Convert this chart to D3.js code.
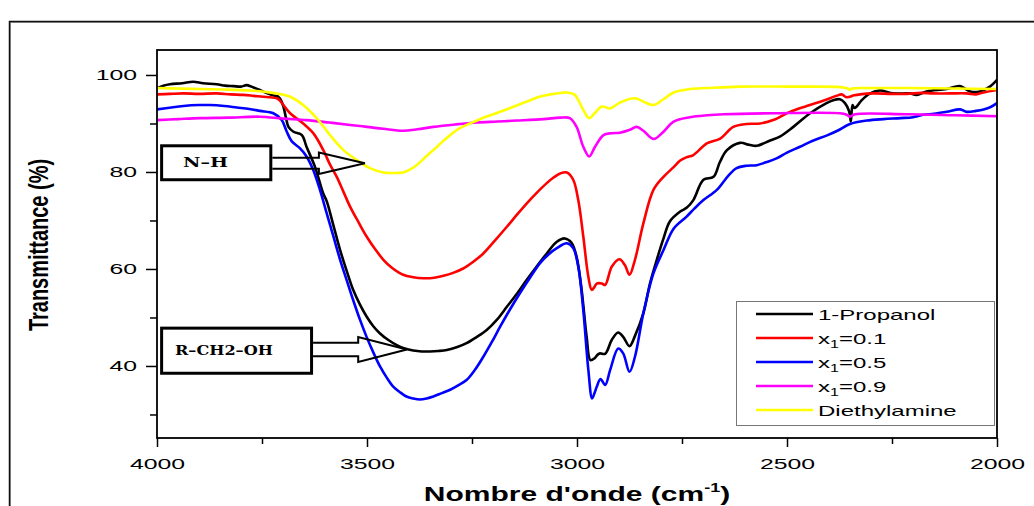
<!DOCTYPE html>
<html>
<head>
<meta charset="utf-8">
<script src="https://cdn.jsdelivr.net/npm/d3@7"></script>
<style>
  html, body { margin: 0; padding: 0; background: #fff; }
  svg { display: block; }
</style>
</head>
<body>
<svg id="chart" width="1034" height="506"></svg>
<script>
// FTIR spectra: [wavenumber (cm-1), transmittance (%)]
const propanol = [
  [4000,97.3],[3985,97.8],[3969,98.1],[3940,98.3],[3914,98.6],[3890,98.3],[3858,98.1],[3838,97.8],
  [3818,97.7],[3800,97.6],[3786,97.9],[3770,97.4],[3755,96.9],[3740,96.3],[3731,96.0],[3720,95.7],
  [3711,95.5],[3705,94.8],[3699,93.5],[3693,91.2],[3687,89.3],[3675,88.3],[3655,87.6],[3644,85.2],
  [3624,81.1],[3604,75.5],[3596,74.0],[3580,69.0],[3564,63.9],[3548,59.5],[3533,55.7],[3517,52.7],
  [3501,50.2],[3485,48.2],[3469,46.7],[3450,45.4],[3429,44.3],[3410,43.6],[3390,43.2],[3370,43.0],
  [3350,43.0],[3330,43.1],[3310,43.3],[3285,43.9],[3263,44.7],[3240,45.9],[3215,47.4],[3190,49.6],
  [3167,52.2],[3143,54.9],[3120,57.7],[3096,60.5],[3072,63.2],[3048,65.6],[3029,66.3],[3013,65.4],
  [3001,62.5],[2989,55.7],[2977,46.0],[2968,41.2],[2958,41.6],[2950,42.4],[2945,42.6],[2933,42.5],
  [2917,45.4],[2902,46.9],[2890,46.0],[2875,44.1],[2862,46.2],[2842,50.9],[2826,57.1],[2810,61.9],
  [2794,66.3],[2779,69.8],[2755,71.8],[2739,72.6],[2723,74.2],[2699,78.4],[2675,79.0],[2660,82.0],
  [2643,84.5],[2612,86.0],[2590,85.6],[2572,85.4],[2540,86.5],[2517,87.3],[2485,89.3],[2445,92.1],
  [2406,94.2],[2390,94.8],[2374,95.0],[2362,94.2],[2352,92.5],[2348,90.4],[2344,93.8],[2340,93.2],
  [2334,93.5],[2322,94.8],[2302,96.2],[2279,96.8],[2247,96.2],[2207,96.2],[2191,95.9],[2168,96.6],
  [2120,97.1],[2088,97.7],[2064,96.6],[2041,96.6],[2017,97.6],[2000,99.0]
];
const x01 = [
  [4000,96.0],[3970,96.1],[3937,96.2],[3900,96.1],[3858,96.2],[3825,96.0],[3795,95.9],[3770,95.7],
  [3747,95.5],[3730,95.4],[3715,95.2],[3708,94.8],[3699,93.8],[3683,92.1],[3652,90.0],[3628,88.0],
  [3604,84.5],[3588,81.5],[3572,79.0],[3556,75.9],[3540,72.8],[3520,69.6],[3501,66.7],[3480,64.0],
  [3461,61.9],[3440,60.2],[3414,58.8],[3390,58.3],[3366,58.1],[3340,58.2],[3318,58.6],[3295,59.2],
  [3271,60.1],[3247,61.5],[3223,63.2],[3195,65.9],[3167,68.7],[3143,71.2],[3120,73.5],[3096,75.7],
  [3072,77.7],[3055,78.9],[3040,79.7],[3024,79.9],[3009,78.4],[2997,74.2],[2985,66.7],[2973,58.4],
  [2965,55.7],[2959,56.2],[2953,57.0],[2941,57.0],[2933,56.7],[2917,60.5],[2899,62.0],[2886,60.8],
  [2875,58.8],[2862,61.9],[2842,69.4],[2818,76.3],[2794,79.0],[2770,81.0],[2755,82.3],[2740,83.0],
  [2723,83.5],[2691,85.9],[2659,86.9],[2628,89.3],[2596,89.9],[2564,90.0],[2533,90.7],[2493,92.4],
  [2453,93.6],[2414,94.7],[2382,95.7],[2370,96.0],[2358,95.4],[2340,95.8],[2326,96.0],[2295,96.2],
  [2250,96.1],[2215,96.1],[2180,96.3],[2152,96.2],[2112,96.2],[2072,96.2],[2050,96.0],[2032,96.4],
  [2000,96.9]
];
const x05 = [
  [4000,92.9],[3937,93.6],[3900,93.8],[3874,93.8],[3840,93.6],[3810,93.3],[3780,93.0],[3755,92.6],
  [3723,92.1],[3703,90.7],[3691,88.3],[3679,86.3],[3660,84.9],[3644,83.2],[3628,80.4],[3612,76.3],
  [3596,71.5],[3580,66.7],[3564,61.9],[3548,57.6],[3533,53.6],[3517,49.6],[3501,46.0],[3485,42.8],
  [3469,39.9],[3453,37.6],[3437,35.7],[3420,34.5],[3406,33.7],[3390,33.3],[3374,33.1],[3358,33.3],
  [3342,33.7],[3322,34.4],[3302,35.1],[3283,36.0],[3263,37.1],[3243,39.2],[3223,41.9],[3203,44.9],
  [3183,48.1],[3160,51.6],[3136,55.0],[3112,58.2],[3088,61.2],[3068,63.0],[3048,64.3],[3024,65.3],
  [3009,64.3],[2997,60.5],[2985,51.5],[2973,39.2],[2964,33.3],[2958,34.5],[2953,35.7],[2944,37.3],
  [2933,36.1],[2921,39.2],[2902,43.6],[2890,42.6],[2875,38.8],[2862,41.9],[2842,50.9],[2818,59.1],
  [2794,63.9],[2770,68.3],[2739,70.8],[2720,72.5],[2699,74.2],[2667,76.3],[2640,79.2],[2620,80.8],
  [2596,81.3],[2572,81.4],[2550,82.0],[2525,82.8],[2500,84.0],[2469,85.2],[2440,86.4],[2406,87.5],
  [2380,88.5],[2350,89.9],[2310,90.6],[2270,90.9],[2230,91.1],[2200,91.3],[2176,91.8],[2150,92.0],
  [2120,92.4],[2088,92.9],[2072,92.4],[2050,92.6],[2032,92.9],[2015,93.4],[2000,94.2]
];
const x09 = [
  [4000,90.7],[3950,90.9],[3898,91.1],[3830,91.2],[3755,91.4],[3700,91.0],[3644,90.7],[3590,90.2],
  [3540,89.7],[3500,89.3],[3461,88.9],[3414,88.5],[3380,88.8],[3342,89.3],[3290,89.8],[3239,90.2],
  [3190,90.4],[3144,90.6],[3080,90.9],[3040,91.2],[3017,91.1],[3001,89.3],[2985,85.2],[2971,83.2],
  [2957,85.2],[2937,87.6],[2918,88.0],[2898,88.1],[2874,88.7],[2858,89.3],[2842,88.5],[2818,86.8],
  [2794,88.3],[2770,90.4],[2731,91.3],[2690,91.7],[2651,91.9],[2533,92.1],[2374,92.1],[2358,91.8],
  [2350,91.4],[2338,91.9],[2215,91.9],[2100,91.7],[2000,91.5]
];
const diethylamine = [
  [4000,97.3],[3950,97.2],[3898,97.1],[3840,97.0],[3779,96.8],[3740,96.5],[3715,96.2],[3683,95.5],
  [3652,93.8],[3620,91.1],[3588,87.6],[3556,84.5],[3525,82.5],[3493,80.8],[3461,79.9],[3440,79.8],
  [3414,79.9],[3398,80.5],[3382,81.4],[3362,83.0],[3342,84.5],[3322,86.1],[3302,87.6],[3280,89.0],
  [3255,90.0],[3220,91.3],[3183,92.4],[3150,93.5],[3120,94.5],[3090,95.5],[3064,96.0],[3040,96.3],
  [3024,96.4],[3005,95.9],[2995,94.5],[2985,92.8],[2971,91.1],[2958,92.1],[2941,93.5],[2921,93.1],
  [2898,94.3],[2862,95.2],[2842,94.5],[2818,93.8],[2794,95.0],[2770,96.4],[2731,97.1],[2690,97.3],
  [2612,97.6],[2500,97.6],[2453,97.6],[2374,97.5],[2355,97.2],[2350,96.9],[2345,97.2],[2300,97.3],
  [2215,97.3],[2100,97.2],[2000,97.1]
];

// Legend entries: base text, subscript, remainder
const legendLabels = [
  ["1-Propanol", "", ""],
  ["x", "1", "=0.1"],
  ["x", "1", "=0.5"],
  ["x", "1", "=0.9"],
  ["Diethylamine", "", ""]
];
const seriesData = [propanol, x01, x05, x09, diethylamine];
const seriesColors = ["#000000", "#ff0000", "#0000ff", "#ff00ff", "#ffff00"];

const xMajorTicks = [4000, 3500, 3000, 2500, 2000];
const xMinorTicks = [3750, 3250, 2750, 2250];
const yMajorTicks = [40, 60, 80, 100];
const yMinorTicks = [30, 50, 70, 90];

// Band assignments: box corners [wnLeft, wnRight, Ttop, Tbottom], arrow tip [wn, T]
const bandNotes = [
  { text: "N\u2013H", box: [3989, 3729, 85.4, 78.4], tip: [3505, 81.8] },
  { text: "R\u2013CH2\u2013OH", box: [3989, 3632, 47.8, 38.5], tip: [3405, 43.4] }
];

const svg = d3.select("#chart");
const W = 1034, H = 506;
const plot = { left: 157, right: 997, top: 50, bottom: 438 };

const x = d3.scaleLinear().domain([4000, 2000]).range([plot.left, plot.right]);
const y = d3.scaleLinear().domain([25.15, 105.15]).range([plot.bottom, plot.top]);

const SANS = "'Liberation Sans', Arial, sans-serif";
const TEXT_SX = 1.6;

// outer frame
svg.append("rect").attr("x", 10.5).attr("y", 22.5).attr("width", W).attr("height", H)
  .attr("fill", "none").attr("stroke", "#9a9a9a").attr("stroke-width", 1);
svg.append("rect").attr("x", 9.5).attr("y", 21.5).attr("width", W).attr("height", H)
  .attr("fill", "none").attr("stroke", "#111").attr("stroke-width", 1.5);

// spectra
svg.append("defs").append("clipPath").attr("id", "plotClip")
  .append("rect").attr("x", plot.left).attr("y", plot.top)
  .attr("width", plot.right - plot.left).attr("height", plot.bottom - plot.top);

const line = d3.line()
  .x(d => x(d[0])).y(d => y(d[1]))
  .curve(d3.curveCatmullRom.alpha(0.5));

const gLines = svg.append("g").attr("clip-path", "url(#plotClip)");
seriesData.forEach((s, i) => {
  gLines.append("path").datum(s)
    .attr("d", line)
    .attr("fill", "none")
    .attr("stroke", seriesColors[i])
    .attr("stroke-width", 2.6)
    .attr("stroke-linejoin", "round")
    .attr("stroke-linecap", "round");
});

// plot frame
svg.append("rect").attr("x", plot.left).attr("y", plot.top)
  .attr("width", plot.right - plot.left).attr("height", plot.bottom - plot.top)
  .attr("fill", "none").attr("stroke", "#000").attr("stroke-width", 1.8);

// axes
function styleAxis(g) {
  g.select(".domain").remove();
  g.selectAll(".tick line").attr("stroke", "#000").attr("stroke-width", 1.5);
}

const yAxis = svg.append("g").attr("transform", `translate(${plot.left},0)`)
  .call(d3.axisLeft(y).tickValues(yMajorTicks).tickSize(11).tickPadding(9).tickFormat(d3.format("d")));
styleAxis(yAxis);
yAxis.selectAll(".tick text")
  .attr("font-family", SANS).attr("font-size", 15.5).attr("fill", "#000")
  .each(function () {
    const t = d3.select(this);
    const x0 = +t.attr("x");
    t.attr("x", 0).attr("transform", `translate(${x0},0) scale(${TEXT_SX},1)`);
  });
const yMinor = svg.append("g").attr("transform", `translate(${plot.left},0)`)
  .call(d3.axisLeft(y).tickValues(yMinorTicks).tickSize(7).tickFormat(""));
styleAxis(yMinor);

const xAxis = svg.append("g").attr("transform", `translate(0,${plot.bottom})`)
  .call(d3.axisBottom(x).tickValues(xMajorTicks).tickSize(9).tickPadding(11).tickFormat(d3.format("d")));
styleAxis(xAxis);
xAxis.selectAll(".tick text")
  .attr("font-family", SANS).attr("font-size", 15.5).attr("fill", "#000")
  .attr("transform", `scale(${TEXT_SX},1)`);
const xMinor = svg.append("g").attr("transform", `translate(0,${plot.bottom})`)
  .call(d3.axisBottom(x).tickValues(xMinorTicks).tickSize(6).tickFormat(""));
styleAxis(xMinor);

// axis titles
const xTitle = svg.append("text")
  .attr("transform", `translate(${(plot.left + plot.right) / 2},501) scale(1.5,1)`)
  .attr("text-anchor", "middle")
  .attr("font-family", SANS).attr("font-weight", "bold").attr("font-size", 20);
xTitle.append("tspan").text("Nombre d'onde (cm");
xTitle.append("tspan").attr("font-size", 12).attr("dy", -9).text("-1");
xTitle.append("tspan").attr("dy", 9).text(")");

svg.append("text")
  .attr("transform", `translate(38,245) rotate(-90) scale(1,1.35)`)
  .attr("text-anchor", "middle").attr("dy", "0.36em")
  .attr("font-family", SANS).attr("font-weight", "bold").attr("font-size", 20)
  .text("Transmittance (%)");

// legend
const lg = { left: 736, top: 301, right: 994, bottom: 425, row0: 314, step: 24 };
svg.append("rect").attr("x", lg.left + 0.5).attr("y", lg.top + 0.5)
  .attr("width", lg.right - lg.left).attr("height", lg.bottom - lg.top)
  .attr("fill", "#fff").attr("stroke", "#777").attr("stroke-width", 1);
legendLabels.forEach((lab, i) => {
  const cy = lg.row0 + i * lg.step;
  svg.append("line").attr("x1", 756).attr("x2", 813).attr("y1", cy).attr("y2", cy)
    .attr("stroke", seriesColors[i]).attr("stroke-width", 2.6);
  const t = svg.append("text")
    .attr("transform", `translate(818,${cy + 5.5}) scale(${TEXT_SX},1)`)
    .attr("font-family", SANS).attr("font-size", 15).attr("fill", "#000");
  t.append("tspan").text(lab[0]);
  if (lab[1]) {
    t.append("tspan").attr("font-size", 10).attr("dy", 4).text(lab[1]);
    t.append("tspan").attr("dy", -4).text(lab[2]);
  }
});

// band assignment boxes with hollow arrows
const notesG = svg.append("g");
bandNotes.forEach((n, i) => {
  const bx0 = x(n.box[0]), bx1 = x(n.box[1]);
  const by0 = y(n.box[2]), by1 = y(n.box[3]);
  const tx = x(n.tip[0]), ty = y(n.tip[1]);
  const shaftHalf = i === 0 ? 5.4 : 6.7;
  const headHalf = i === 0 ? 10.8 : 12.5;
  const headLen = i === 0 ? 46 : 48.7;
  const hb = tx - headLen;

  notesG.append("rect").attr("x", bx0).attr("y", by0)
    .attr("width", bx1 - bx0).attr("height", by1 - by0)
    .attr("fill", "#fff").attr("stroke", "#000").attr("stroke-width", 3);

  const p = d3.path();
  p.moveTo(bx1 + 1.5, ty - shaftHalf);
  p.lineTo(hb, ty - shaftHalf);
  p.lineTo(hb, ty - headHalf);
  p.lineTo(tx, ty);
  p.lineTo(hb, ty + headHalf);
  p.lineTo(hb, ty + shaftHalf);
  p.lineTo(bx1 + 1.5, ty + shaftHalf);
  notesG.append("path").attr("d", p.toString())
    .attr("fill", "none").attr("stroke", "#000").attr("stroke-width", 2)
    .attr("stroke-linejoin", "miter");

  const tgtW = i === 0 ? 45 : 98;
  const tLeft = i === 0 ? 183 : 175;
  const label = notesG.append("text")
    .attr("font-family", "'DejaVu Serif', 'Liberation Serif', serif")
    .attr("font-weight", "bold").attr("font-size", i === 0 ? 13 : 12)
    .attr("dy", "0.36em")
    .text(n.text);
  const natural = label.node().getComputedTextLength();
  label.attr("transform", `translate(${tLeft},${(by0 + by1) / 2}) scale(${tgtW / natural},1)`);
});
</script>
</body>
</html>
